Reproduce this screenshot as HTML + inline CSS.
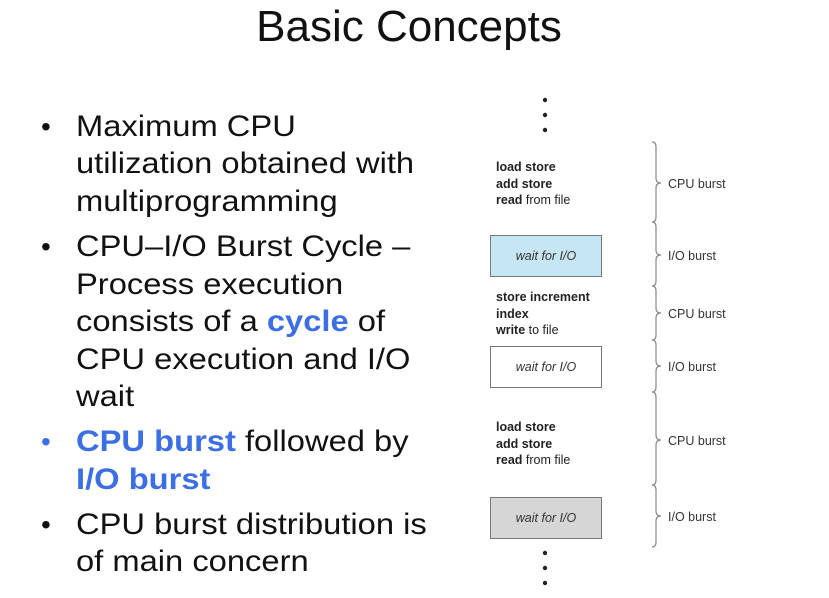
<!DOCTYPE html>
<html><head><meta charset="utf-8"><style>
body{margin:0;width:829px;height:598px;background:#fff;overflow:hidden;position:relative;font-family:"Liberation Sans",sans-serif}
.t{position:absolute;left:0;width:818px;text-align:center;top:2px;font-size:44px;color:#111}
.l{position:absolute;left:76px;font-size:30px;color:#111;white-space:nowrap;transform:scaleX(1.09);transform-origin:left center;line-height:32px}
.b{position:absolute;left:41px;font-size:28px;color:#111;line-height:32px}
.bl{color:#3b6fe3;font-weight:bold}
.code{position:absolute;left:496px;font-size:12.5px;line-height:16.5px;color:#222}
.code b{font-weight:bold}
.box{position:absolute;left:490px;width:110px;height:40px;border:1px solid #777;font-size:12.5px;font-style:italic;color:#333;text-align:center;line-height:40px}
.lab{position:absolute;left:668px;font-size:12.5px;color:#333}
</style></head><body>
<div class="t">Basic Concepts</div>
<div class="b" style="top:111px">•</div>
<div class="l" style="top:111px">Maximum CPU</div>
<div class="l" style="top:148px">utilization obtained with</div>
<div class="l" style="top:186px">multiprogramming</div>
<div class="b" style="top:231px">•</div>
<div class="l" style="top:231px">CPU–I/O Burst Cycle –</div>
<div class="l" style="top:269px">Process execution</div>
<div class="l" style="top:306px">consists of a <span class="bl">cycle</span> of</div>
<div class="l" style="top:344px">CPU execution and I/O</div>
<div class="l" style="top:381px">wait</div>
<div class="b" style="top:426px;color:#3b6fe3">•</div>
<div class="l" style="top:426px"><span class="bl">CPU burst</span> followed by</div>
<div class="l" style="top:464px"><span class="bl">I/O burst</span></div>
<div class="b" style="top:509px">•</div>
<div class="l" style="top:509px">CPU burst distribution is</div>
<div class="l" style="top:546px">of main concern</div>

<div class="code" style="top:159px"><b>load store</b><br><b>add store</b><br><b>read</b> from file</div>
<div class="box" style="top:235px;background:#c6e6f3">wait for I/O</div>
<div class="code" style="top:289px"><b>store increment</b><br><b>index</b><br><b>write</b> to file</div>
<div class="box" style="top:346px;background:#fff">wait for I/O</div>
<div class="code" style="top:419px"><b>load store</b><br><b>add store</b><br><b>read</b> from file</div>
<div class="box" style="top:497px;background:#d6d6d6">wait for I/O</div>

<div class="lab" style="top:177px">CPU burst</div>
<div class="lab" style="top:249px">I/O burst</div>
<div class="lab" style="top:307px">CPU burst</div>
<div class="lab" style="top:360px">I/O burst</div>
<div class="lab" style="top:434px">CPU burst</div>
<div class="lab" style="top:510px">I/O burst</div>

<svg width="829" height="598" style="position:absolute;left:0;top:0" fill="none">
<g fill="#222">
<circle cx="545" cy="100" r="2.2"/><circle cx="545" cy="115" r="2.2"/><circle cx="545" cy="130" r="2.2"/>
<circle cx="545" cy="553" r="2.2"/><circle cx="545" cy="568" r="2.2"/><circle cx="545" cy="583" r="2.2"/>
</g>
<g stroke="#888" stroke-width="1.2">
<path d="M652 142 Q656 142 656 147 L656 178 Q656 183 661 183 Q656 183 656 188 L656 217 Q656 222 652 222"/>
<path d="M652 222 Q656 222 656 227 L656 250 Q656 255 661 255 Q656 255 656 260 L656 281 Q656 286 652 286"/>
<path d="M652 286 Q656 286 656 291 L656 308 Q656 313 661 313 Q656 313 656 318 L656 335 Q656 340 652 340"/>
<path d="M652 340 Q656 340 656 345 L656 361 Q656 366 661 366 Q656 366 656 371 L656 387 Q656 392 652 392"/>
<path d="M652 392 Q656 392 656 397 L656 435 Q656 440 661 440 Q656 440 656 445 L656 480 Q656 485 652 485"/>
<path d="M652 485 Q656 485 656 490 L656 511 Q656 516 661 516 Q656 516 656 521 L656 542 Q656 547 652 547"/>
</g>
</svg>
</body></html>
